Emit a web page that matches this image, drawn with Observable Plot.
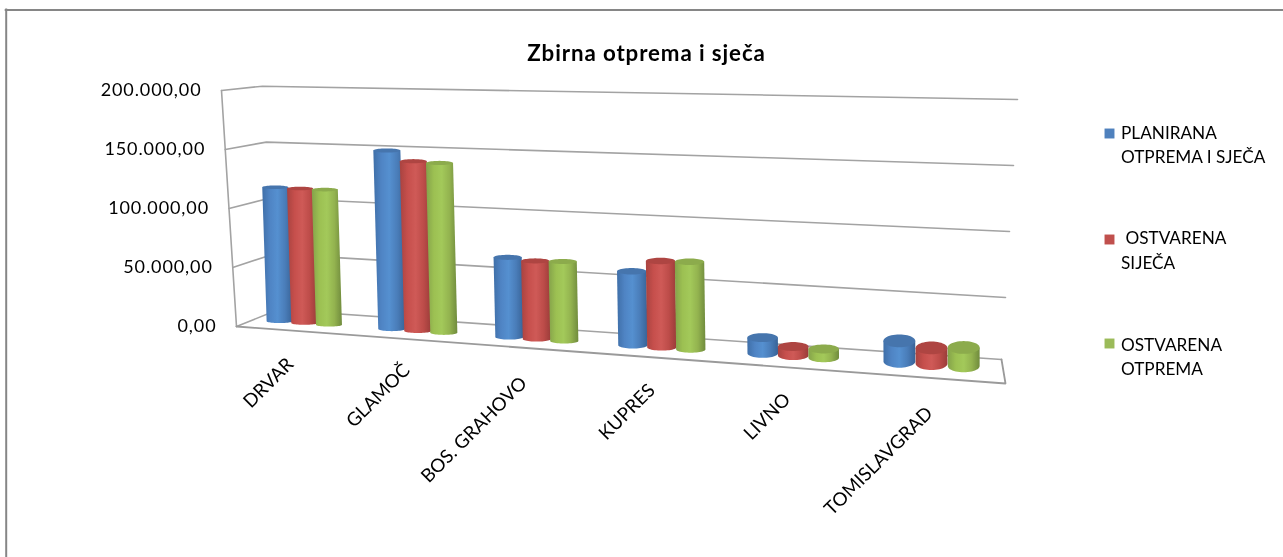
<!DOCTYPE html>
<html>
<head>
<meta charset="utf-8">
<script src="https://cdn.jsdelivr.net/npm/d3@7"></script>
<script src="https://cdn.jsdelivr.net/npm/@observablehq/plot@0.6"></script>
<style>
html,body{margin:0;padding:0;background:#fff;}
svg{display:block;filter:blur(0.45px);}
svg [aria-label="y-axis tick label"]{letter-spacing:0.9px;}
.title-text{letter-spacing:0.9px;}
</style>
</head>
<body>
<div id="chart"></div>
<script>
// ---- data ----
const categories = ["DRVAR", "GLAMOČ", "BOS. GRAHOVO", "KUPRES", "LIVNO", "TOMISLAVGRAD"];
const seriesNames = ["PLANIRANA\nOTPREMA I SJEČA", "\u00a0OSTVARENA\nSIJEČA", "OSTVARENA\nOTPREMA"];
const planirana = [117300, 152000, 66000, 59500, 12300, 15500];
const sijeca    = [117000, 143600, 64300, 69000, 7000, 11800];
const otprema   = [116900, 142800, 65000, 69600, 6800, 13800];
const yTicks = [0, 50000, 100000, 150000, 200000];

// ---- look ----
const FONT = "Lato, Carlito, Calibri, sans-serif";
const swatch = ["#4f81bd", "#c0504d", "#9bbb59"];
const capColor = ["#4675ad", "#ae4542", "#8cab4c"];
const stops = [
  ["#3f6fa8", "#4f84c4", "#5590d0", "#4a7db9", "#386397"],
  ["#a84340", "#c64f4c", "#cf5a57", "#bd4c49", "#9a3c39"],
  ["#84a24a", "#9cc052", "#a3c95a", "#93b34f", "#708b3d"]
];

// ---- scales: x in category units, y in value units at the front-left edge ----
const toX = px => (px - 236) / 128;
const toY = py => (326 - py) / 236 * 200000;

const fmt = d3.formatLocale({decimal: ",", thousands: ".", grouping: [3], currency: ["", ""]}).format(",.2f");

// ---- perspective helpers (return pixel positions) ----
const warp = t => t / (1.16 - 0.16 * t);
const groupT = c => warp((c + 0.5) / 6);
const groupX = c => 249 + 754 * groupT(c);
const floorEdge = px => 324.5 + 0.072 * (px - 306);
const radiusY = t => 1.7 + 1.5 * t + 4.5 * t * t * t;
const P = (px, py) => ({x: toX(px), y: toY(py)});

function cylinder(c, s, value) {
  const t = groupT(c);
  const sp = 24 + 9 * t;
  const w = 25.5 + 7 * t;
  const bx = groupX(c) + (s - 1) * sp;
  const ry = radiusY(t);
  const by = floorEdge(bx) - ry;
  const h = value * (228 + 0.057 * (bx - 270)) / 200000;
  const lean = -0.035 * (1 - (bx - 230) / 770);
  const tx = bx + lean * h;
  const ty = by - h;
  const id = `${c}-${s}`;
  const body = [], cap = [];
  const n = 24;
  for (let i = 0; i <= n; ++i) {
    const a = Math.PI * (1 - i / n);
    body.push({id, ...P(bx + (w / 2) * Math.cos(a), by + ry * Math.sin(a))});
  }
  body.push({id, ...P(tx + w / 2, ty)}, {id, ...P(tx - w / 2, ty)});
  for (let i = 0; i < 2 * n; ++i) {
    const a = Math.PI * i / n;
    cap.push({id, ...P(tx + (w / 2) * Math.cos(a), ty + ry * Math.sin(a))});
  }
  return {body, cap};
}

const allSeries = [planirana, sijeca, otprema];
const cylinders = allSeries.map((vals, s) => vals.map((v, c) => cylinder(c, s, v)));

// ---- walls ----
const frontLeft = u => P(236 - 15 * u, 326 - 236 * u);
const backLeft = u => P(277.5 - 15.5 * u, 309.3 - 223.6 * u);
const backRight = u => P(1001 + 16 * u, u === 0 ? 359 : 363 - 264 * u);
const wallLines = yTicks.map(v => {
  const u = v / 200000;
  return [frontLeft(u), backLeft(u), backRight(u)].map(p => ({...p, id: v}));
});
const gridPts = wallLines.flat();
const leftEdge = [frontLeft(0), frontLeft(1)];
const floorFront = [frontLeft(0), P(1005, 383), backRight(0)];

// ---- label anchors ----
const labelShift = [-14, -11, -13, -10, -6, -2];
const labelLift = [-8.3, -10.3, -5.4, -7, -7, -3];
const labelEnd = categories.map((name, c) => {
  const px = groupX(c) + labelShift[c];
  return {name, ...P(px, 368 + 0.0685 * (px - 275) + labelLift[c])};
});

const defs = () => {
  const d = d3.create("svg:defs");
  stops.forEach((st, s) => {
    const g = d.append("linearGradient").attr("id", `cyl${s}`).attr("x1", 0).attr("x2", 1).attr("y1", 0).attr("y2", 0);
    st.forEach((col, i) => g.append("stop").attr("offset", i / (st.length - 1)).attr("stop-color", col));
  });
  return d.node();
};

const cylinderMarks = cylinders.flatMap((row, s) => [
  Plot.line(row.flatMap(d => d.body), {x: "x", y: "y", z: "id", curve: "linear-closed", fill: `url(#cyl${s})`, stroke: null}),
  Plot.line(row.flatMap(d => d.cap), {x: "x", y: "y", z: "id", curve: "linear-closed", fill: capColor[s], stroke: null})
]);

const legendY = [133, 239, 343];
const legendTextY = [121.4, 226.9, 333.4];
const legendMarks = seriesNames.flatMap((name, s) => [
  Plot.dot([name], {frameAnchor: "top-left", dx: 1109, dy: legendY[s], symbol: "square", r: 5.6, fill: swatch[s], stroke: null}),
  Plot.text([name], {frameAnchor: "top-left", dx: 1120.5, dy: legendTextY[s], text: d => d, textAnchor: "start", lineAnchor: "top", lineHeight: 1.4, fontSize: 17.2, fontFamily: FONT, fill: "#000"})
]);

const chart = Plot.plot({
  width: 1283,
  height: 557,
  marginTop: 0, marginRight: 0, marginBottom: 0, marginLeft: 0,
  style: {background: "#fff", overflow: "visible"},
  x: {axis: null, domain: [toX(0), toX(1283)], range: [0, 1283]},
  y: {domain: [toY(557), toY(0)], range: [557, 0]},
  marks: [
    defs,
    // chart area border (left and top edges only are inside the picture)
    Plot.ruleX([toX(5.7)], {y1: toY(8.5), y2: toY(557), stroke: "#868686", strokeWidth: 2}),
    Plot.ruleY([toY(9.5)], {x1: toX(4.7), x2: toX(1283), stroke: "#868686", strokeWidth: 2}),
    // title
    Plot.text(["Zbirna otprema i sječa"], {frameAnchor: "top-left", dx: 646, dy: 53, text: d => d, textAnchor: "middle", lineAnchor: "middle", fontSize: 22.3, fontWeight: 700, fontFamily: FONT, fill: "#000", className: "title-text"}),
    // walls and floor
    Plot.line(gridPts, {x: "x", y: "y", z: "id", stroke: "#a3a3a3", strokeWidth: 1.6}),
    Plot.line(leftEdge, {x: "x", y: "y", stroke: "#a3a3a3", strokeWidth: 1.6}),
    Plot.line(floorFront, {x: "x", y: "y", stroke: "#9a9a9a", strokeWidth: 1.8}),
    ...cylinderMarks,
    // axes
    Plot.axisY(yTicks, {
      x: v => toX(216 - 15 * v / 200000),
      tickSize: 0, tickPadding: 0, tickFormat: fmt, textAnchor: "end",
      fontSize: 18, fontFamily: FONT, fill: "#000", label: null
    }),
    Plot.text(labelEnd, {x: "x", y: "y", text: "name", rotate: -45, textAnchor: "end", lineAnchor: "middle", fontSize: 18.7, fontFamily: FONT, fill: "#000"}),
    ...legendMarks
  ]
});
document.getElementById("chart").append(chart);
</script>
</body>
</html>
